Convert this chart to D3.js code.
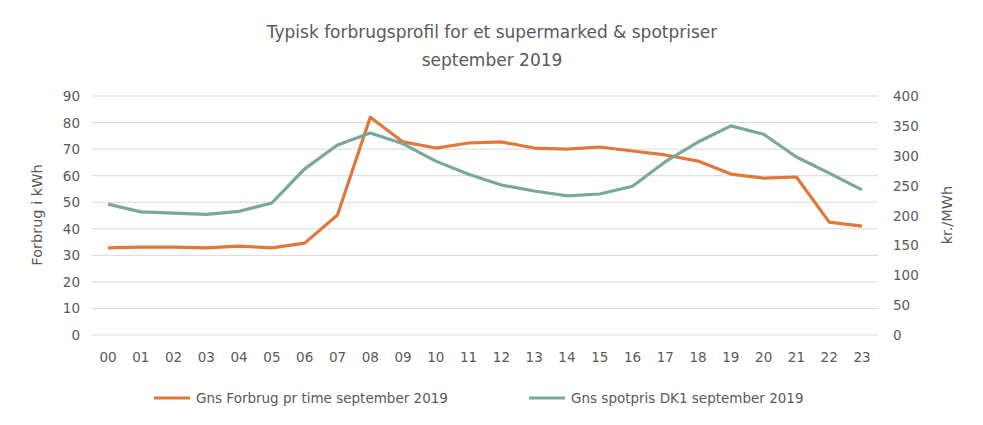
<!DOCTYPE html>
<html><head><meta charset="utf-8">
<script src="https://cdn.jsdelivr.net/npm/d3@7"></script>
<style>body{margin:0;background:#fff}text{font-family:"DejaVu Sans",sans-serif;fill:#595959}</style>
</head><body><svg id="c" width="983" height="425"></svg>
<script>
const hours=["00","01","02","03","04","05","06","07","08","09","10","11","12","13","14","15","16","17","18","19","20","21","22","23"];
const forbrug=[32.8,33.1,33.1,32.8,33.5,32.8,34.6,45.2,82,72.7,70.4,72.3,72.7,70.4,70,70.8,69.3,67.8,65.5,60.6,59.1,59.5,42.5,41];
const spot=[219,206,204,202,207,221,278,318,338,320,291,269,251,241,233,236,249,290,323,350,336,298,271,243];
const leftTicks=[0,10,20,30,40,50,60,70,80,90];
const rightTicks=[0,50,100,150,200,250,300,350,400];
const svg=d3.select("#c");
const L=92,R=878,T=96,B=335;
const x=d3.scalePoint().domain(hours).range([108,862]);
const yl=d3.scaleLinear().domain([0,90]).range([B,T]);
const yr=d3.scaleLinear().domain([0,400]).range([B,T]);
svg.selectAll(".g").data(leftTicks).join("line").attr("x1",L).attr("x2",R)
 .attr("y1",d=>yl(d)).attr("y2",d=>yl(d)).attr("stroke","#d9d9d9").attr("stroke-width",1);
svg.selectAll(".lt").data(leftTicks).join("text").attr("x",80).attr("y",d=>yl(d)+5)
 .attr("text-anchor","end").attr("font-size",13.5).text(d=>d);
svg.selectAll(".rt").data(rightTicks).join("text").attr("x",893).attr("y",d=>yr(d)+5)
 .attr("font-size",13.5).text(d=>d);
svg.selectAll(".xt").data(hours).join("text").attr("x",d=>x(d)).attr("y",362)
 .attr("text-anchor","middle").attr("font-size",13.5).text(d=>d);
svg.append("text").attr("transform","translate(42,215) rotate(-90)").attr("text-anchor","middle").attr("font-size",14.5).text("Forbrug i kWh");
svg.append("text").attr("transform","translate(952,215) rotate(-90)").attr("text-anchor","middle").attr("font-size",14.5).text("kr./MWh");
svg.append("text").attr("x",492).attr("y",38).attr("text-anchor","middle").attr("font-size",17).text("Typisk forbrugsprofil for et supermarked & spotpriser");
svg.append("text").attr("x",492).attr("y",66).attr("text-anchor","middle").attr("font-size",17).text("september 2019");
const oc="#e0783a",gc="#79a89b";
svg.append("path").attr("d",d3.line().x((d,i)=>x(hours[i])).y(d=>yl(d))(forbrug)).attr("fill","none").attr("stroke",oc).attr("stroke-width",3.2).attr("stroke-linejoin","round");
svg.append("path").attr("d",d3.line().x((d,i)=>x(hours[i])).y(d=>yr(d))(spot)).attr("fill","none").attr("stroke",gc).attr("stroke-width",3.2).attr("stroke-linejoin","round");
const leg=[["Gns Forbrug pr time september 2019",oc,154],["Gns spotpris DK1 september 2019",gc,529]];
leg.forEach(([t,c,lx])=>{
 svg.append("line").attr("x1",lx).attr("x2",lx+36).attr("y1",398).attr("y2",398).attr("stroke",c).attr("stroke-width",3.2);
 svg.append("text").attr("x",lx+42).attr("y",403).attr("font-size",13.5).text(t);
});
</script></body></html>
